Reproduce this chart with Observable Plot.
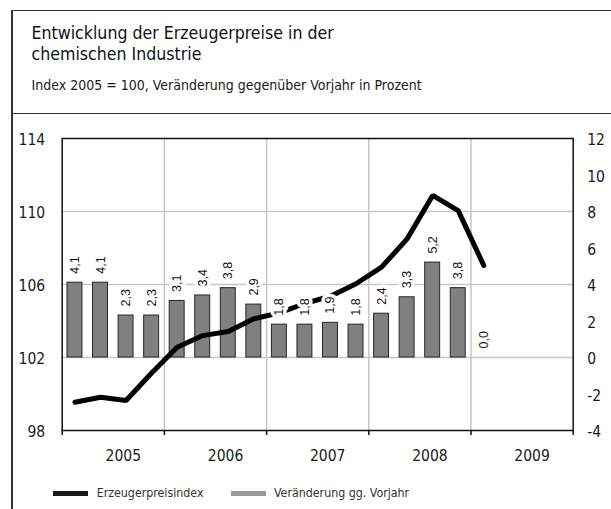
<!DOCTYPE html>
<html><head><meta charset="utf-8">
<script src="https://cdn.jsdelivr.net/npm/d3@7"></script>
<script src="https://cdn.jsdelivr.net/npm/@observablehq/plot@0.6"></script>
<style>
html,body{margin:0;padding:0;background:#fff;}
#wrap{position:relative;width:611px;height:509px;overflow:hidden;font-family:'DejaVu Sans Condensed','Liberation Sans Narrow',sans-serif;color:#1a1a1a;}
.ln{position:absolute;background:#333;}
.title{position:absolute;left:31.5px;font-size:17.6px;line-height:20.5px;white-space:nowrap;color:#111;}
#sub{position:absolute;left:31.5px;top:76.5px;font-size:14px;line-height:16px;white-space:nowrap;}
#chart{position:absolute;left:0;top:114px;}
.leg{position:absolute;top:484.5px;font-size:12.3px;line-height:16px;white-space:nowrap;color:#333;}
.sw{position:absolute;top:490.5px;height:5px;width:35px;}
</style></head>
<body><div id="wrap">
<div class="ln" style="left:11px;top:9.5px;width:620px;height:1.5px"></div>
<div class="ln" style="left:11px;top:9.5px;width:1.5px;height:520px"></div>
<div class="ln" style="left:11px;top:112.5px;width:620px;height:1.5px"></div>
<div class="title" style="top:23.2px">Entwicklung der Erzeugerpreise in der</div>
<div class="title" style="top:43.5px">chemischen Industrie</div>
<div id="sub">Index 2005 = 100, Veränderung gegenüber Vorjahr in Prozent</div>
<div id="chart"></div>
<div class="sw" style="left:52.7px;background:#1a1a1a"></div>
<div class="leg" style="left:96.7px">Erzeugerpreisindex</div>
<div class="sw" style="left:231px;background:#9a9a9a"></div>
<div class="leg" style="left:274px">Veränderung gg. Vorjahr</div>
</div>
<script>
const years = [2005, 2006, 2007, 2008, 2009];
const quarters = ["2005 Q1","2005 Q2","2005 Q3","2005 Q4","2006 Q1","2006 Q2","2006 Q3","2006 Q4","2007 Q1","2007 Q2","2007 Q3","2007 Q4","2008 Q1","2008 Q2","2008 Q3","2008 Q4","2009 Q1"];
const erzeugerpreisindex = [99.55, 99.82, 99.64, 101.15, 102.56, 103.2, 103.42, 104.12, 104.45, 104.96, 105.36, 106.04, 106.95, 108.5, 110.88, 110.05, 107.04];
const veraenderung = [4.1, 4.1, 2.3, 2.3, 3.1, 3.4, 3.8, 2.9, 1.8, 1.8, 1.9, 1.8, 2.4, 3.3, 5.2, 3.8, 0.0];
const leftTicks = [98, 102, 106, 110, 114];
const rightTicks = [-4, -2, 0, 2, 4, 6, 8, 10, 12];
const base = 102; // right axis 0 aligns with left axis 102

const data = quarters.map((q, i) => {
  const [y, qq] = q.split(" Q");
  const t = +y + (+qq - 1) / 4;
  return {q, t, idx: erzeugerpreisindex[i], v: veraenderung[i]};
});
const fmt = v => v.toFixed(1).replace(".", ",");
const ff = "'DejaVu Sans Condensed','Liberation Sans Narrow',sans-serif";

const chart = Plot.plot({
  width: 611, height: 395,
  marginTop: 24, marginBottom: 79, marginLeft: 61.7, marginRight: 38.3,
  x: {domain: [years[0], years[years.length - 1] + 1], label: null},
  y: {domain: [leftTicks[0], leftTicks[leftTicks.length - 1]], label: null},
  style: {fontFamily: ff, background: "transparent", color: "#1a1a1a", overflow: "visible"},
  marks: [
    Plot.gridY([102, 106, 110], {stroke: "#c6c6c6", strokeOpacity: 1, strokeWidth: 1.5}),
    Plot.gridX(years.slice(1), {stroke: "#c6c6c6", strokeOpacity: 1, strokeWidth: 1.5}),
    Plot.rectY(data.filter(d => d.v !== 0), {x1: "t", x2: d => d.t + 0.25, y1: base, y2: d => base + d.v,
      insetLeft: 5.3, insetRight: 5.3, fill: "#808080", stroke: "#262626", strokeWidth: 1}),
    Plot.line(data, {x: d => d.t + 0.125, y: "idx", stroke: "#000", strokeWidth: 5, strokeLinejoin: "miter"}),
    Plot.text(data, {x: d => d.t + 0.125, y: d => base + d.v, text: d => fmt(d.v), rotate: -90,
      textAnchor: "start", dy: -9, fontSize: 12.5, fontFamily: "'Liberation Sans', Arial, sans-serif",
      fill: "#111", stroke: "white", strokeWidth: 7, strokeLinejoin: "round", paintOrder: "stroke"}),
    Plot.frame({stroke: "#111", strokeWidth: 1.5}),
    Plot.axisX({ticks: [...years, years[years.length - 1] + 1], tickSize: 5, tickFormat: () => "", stroke: "#111", strokeWidth: 1.5}),
    Plot.axisX({ticks: years.map(y => y + 0.5), tickSize: 0, tickPadding: 19, dx: 10,
      tickFormat: d => String(Math.floor(d)), fontSize: 15.5}),
    Plot.axisY({ticks: leftTicks, anchor: "left", tickSize: 0, tickPadding: 17, fontSize: 15.5, dy: 2}),
    Plot.axisY({ticks: rightTicks.map(r => r + base), anchor: "right", tickSize: 0, tickPadding: 14,
      tickFormat: d => String(d - base), fontSize: 15.5, dy: 2})
  ]
});
document.getElementById("chart").appendChild(chart);
</script>
</body></html>
